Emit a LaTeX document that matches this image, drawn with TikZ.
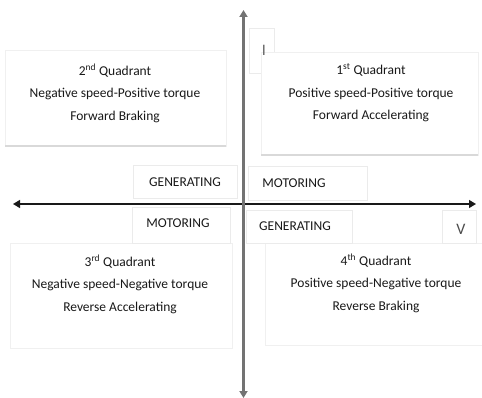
\documentclass[tikz,border=0pt]{standalone}
\usepackage{fontspec}
\setmainfont{Carlito}
\usetikzlibrary{arrows.meta}
\begin{document}
\begin{tikzpicture}[x=1pt,y=-1pt,
  qbox/.style={draw=black!6, fill=white, line width=0.6pt},
  shadow/.style={draw=black!15, line width=2pt},
  lbox/.style={draw=black!8, fill=white, line width=0.6pt},
  qtext/.style={font=\fontsize{13.5}{22.5}\selectfont, align=center, text=black!90},
  ltext/.style={font=\fontsize{13.5}{15}\selectfont, text=black!90},
  vaxis/.style={draw=black!55, line width=2.2pt, -{Triangle[length=7pt,width=8pt]}},
  haxis/.style={draw=black!90, line width=1.4pt, {Triangle[length=7pt,width=8pt]}-{Triangle[length=7pt,width=8pt]}}]
\useasboundingbox (0,0) rectangle (482,398);
% quadrant boxes
\draw[qbox] (5,50) rectangle (226,146);
\draw[shadow] (5,146) -- (226,146);
\draw[lbox] (249,28) rectangle (274,73);
\draw[qbox] (261,52) rectangle (478,155);
\draw[shadow] (261,155) -- (478,155);
\draw[qbox] (10,243) rectangle (232,348);
\draw[qbox] (265,243) rectangle (485,345);
% label boxes
\draw[lbox] (133,165) rectangle (237,198);
\draw[lbox] (248,166) rectangle (367,200);
\draw[lbox] (132,207) rectangle (230,243);
\draw[lbox] (246,210) rectangle (352,243);
\draw[lbox] (442,210) rectangle (476,243);
% texts
\node[qtext] (q2) at (115,93) {2\textsuperscript{nd} Quadrant\\Negative speed-Positive torque\\Forward Braking};
\node[qtext] (q1) at (371,93) {1\textsuperscript{st} Quadrant\\Positive speed-Positive torque\\Forward Accelerating};
\node[qtext] (q3) at (120,284) {3\textsuperscript{rd} Quadrant\\Negative speed-Negative torque\\Reverse Accelerating};
\node[qtext] (q4) at (376,283) {4\textsuperscript{th} Quadrant\\Positive speed-Negative torque\\Reverse Braking};
\node[ltext] (g1) at (185,182) {GENERATING};
\node[ltext] (m1) at (294,183) {MOTORING};
\node[ltext] (m2) at (178,223) {MOTORING};
\node[ltext] (g2) at (295,226) {GENERATING};
\node[ltext, font=\fontsize{16}{18}\selectfont, text=black!70] (v) at (461,229) {V};
\node[ltext, font=\fontsize{16}{18}\selectfont, text=black!60] (i) at (264,50) {I};
% axes
\coordinate (o) at (243.5,204);
\coordinate (top) at (243.5,10);
\coordinate (bot) at (243.5,398);
\coordinate (lft) at (13,204);
\coordinate (rgt) at (476,204);
\draw[haxis] (lft) -- (rgt);
\draw[vaxis] (o) -- (top);
\draw[vaxis] (o) -- (bot);
\end{tikzpicture}
\end{document}
